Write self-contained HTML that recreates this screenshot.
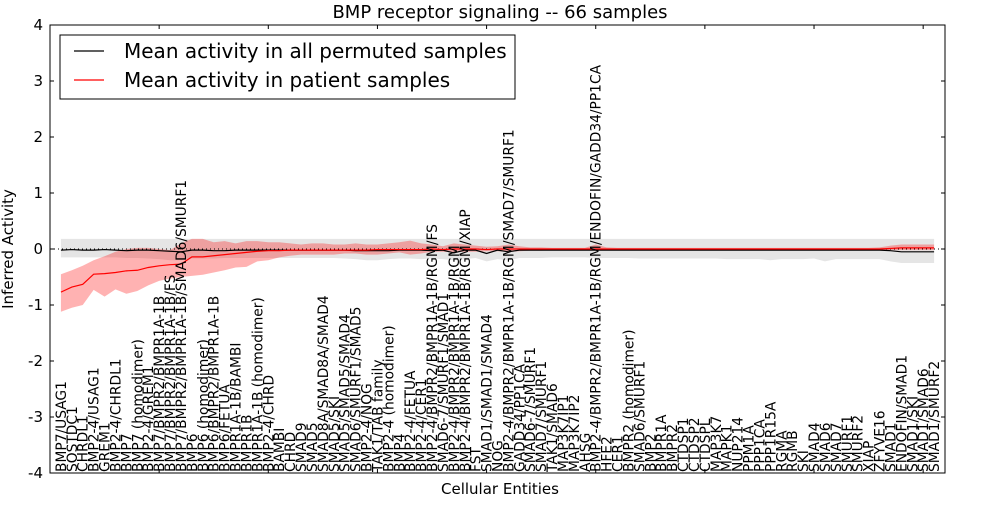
<!DOCTYPE html>
<html><head><meta charset="utf-8"><style>
body{margin:0;background:#fff;}
svg text{font-family:"DejaVu Sans","Liberation Sans",sans-serif;}
</style></head><body>
<svg id="chart" width="1000" height="500" viewBox="0 0 1000 500">
<rect width="1000" height="500" fill="#fff"/>
<g id="plot"></g>
</svg>
<script>
const categories=["BMP7/USAG1","SOSTDC1","CHRDL1","BMP2-4/USAG1","GREM1","BMP2-4/CHRDL1","BMP7","BMP7 (homodimer)","BMP2-4/GREM1","BMP7/BMPR2/BMPR1A-1B","BMP7/BMPR2/BMPR1A-1B/FS","BMP7/BMPR2/BMPR1A-1B/SMAD6/SMURF1","BMP6","BMP6 (homodimer)","BMP6/BMPR2/BMPR1A-1B","BMP6/FETUA","BMPR1A-1B/BAMBI","BMPR1B","BMPR1A-1B (homodimer)","BMP2-4/CHRD","BAMBI","CHRD","SMAD9","SMAD5","SMAD8A/SMAD8A/SMAD4","SMAD5/SKI","SMAD5/SMAD5/SMAD4","SMAD6/SMURF1/SMAD5","BMP2-4/NOG","TAK1/TAB family","BMP2-4 (homodimer)","BMP4","BMP2-4/FETUA","BMP2-4/CER1","BMP2-4/BMPR2/BMPR1A-1B/RGM/FS","SMAD6-7/SMURF1/SMAD1","BMP2-4/BMPR2/BMPR1A-1B/RGM","BMP2-4/BMPR2/BMPR1A-1B/RGM/XIAP","FST","SMAD1/SMAD1/SMAD4","NOG","BMP2-4/BMPR2/BMPR1A-1B/RGM/SMAD7/SMURF1","GADD34/PP1CA","SMAD6-7/SMURF1","SMAD7/SMURF1","TAK1/SMAD6","MAP3K7IP1","MAP3K7IP2","AHSG","BMP2-4/BMPR2/BMPR1A-1B/RGM/ENDOFIN/GADD34/PP1CA","HFE2","CER1","BMPR2 (homodimer)","SMAD6/SMURF1","BMP2","BMPR1A","BMPR2","CTDSP1","CTDSP2","CTDSPL","MAP3K7","MAPK1","NUP214","PPM1A","PPP1CA","PPP1R15A","RGMA","RGMB","SKI","SMAD4","SMAD6","SMAD7","SMURF1","SMURF2","XIAP","ZFYVE16","SMAD1","ENDOFIN/SMAD1","SMAD1/SKI","SMAD1/SMAD6","SMAD1/SMURF2"];
const patientMean=[-0.77,-0.68,-0.63,-0.45,-0.44,-0.42,-0.39,-0.38,-0.33,-0.3,-0.28,-0.27,-0.14,-0.14,-0.12,-0.1,-0.08,-0.06,-0.04,-0.03,-0.03,-0.02,-0.02,-0.02,-0.02,-0.02,-0.02,-0.02,-0.02,-0.01,-0.01,-0.01,-0.01,-0.01,0,-0.01,0,0,0,-0.01,0,0,0,0,0,0,0,0,0,0,0,0,0,0,0,0,0,0,0,0,0,0,0,0,0,0,0,0,0,0,0,0,0,0,0,0,0.01,0.02,0.02,0.02,0.02];
const patientUpper=[-0.45,-0.38,-0.3,-0.2,-0.13,-0.05,0,0.02,0.02,0,-0.02,0.1,0.18,0.18,0.12,0.14,0.1,0.14,0.14,0.12,0.12,0.1,0.08,0.1,0.1,0.08,0.08,0.1,0.08,0.08,0.1,0.12,0.15,0.1,0.08,0.05,0.1,0.08,0.06,0.04,0.05,0.08,0.05,0.03,0.03,0.02,0.02,0.02,0.02,0.08,0.03,0.02,0.02,0.02,0.02,0.02,0.02,0.02,0.02,0.02,0.02,0.02,0.02,0.02,0.02,0.02,0.02,0.02,0.02,0.02,0.02,0.02,0.02,0.02,0.02,0.03,0.06,0.08,0.08,0.08,0.08];
const patientLower=[-1.12,-1.05,-1.0,-0.73,-0.85,-0.72,-0.8,-0.75,-0.65,-0.57,-0.53,-0.5,-0.48,-0.46,-0.42,-0.38,-0.33,-0.32,-0.22,-0.2,-0.15,-0.12,-0.1,-0.1,-0.1,-0.1,-0.08,-0.08,-0.1,-0.1,-0.08,-0.06,-0.1,-0.08,-0.05,-0.05,-0.06,-0.05,-0.05,-0.04,-0.04,-0.05,-0.04,-0.03,-0.03,-0.02,-0.02,-0.02,-0.02,-0.03,-0.02,-0.02,-0.02,-0.02,-0.02,-0.02,-0.02,-0.02,-0.02,-0.02,-0.02,-0.02,-0.02,-0.02,-0.02,-0.02,-0.02,-0.02,-0.02,-0.02,-0.02,-0.02,-0.02,-0.02,-0.02,-0.02,-0.02,-0.02,-0.02,-0.02,-0.02];
const permMean=[-0.02,-0.01,-0.02,-0.02,-0.01,-0.02,-0.03,-0.02,-0.02,-0.03,-0.04,-0.05,-0.02,-0.02,-0.03,-0.03,-0.02,-0.02,-0.02,-0.02,-0.02,-0.02,-0.02,-0.02,-0.02,-0.02,-0.02,-0.03,-0.03,-0.03,-0.03,-0.02,-0.02,-0.02,-0.03,-0.02,-0.07,-0.02,-0.02,-0.08,-0.02,-0.05,-0.02,-0.02,-0.02,-0.02,-0.02,-0.02,-0.02,-0.02,-0.02,-0.02,-0.02,-0.02,-0.02,-0.02,-0.02,-0.02,-0.02,-0.02,-0.02,-0.02,-0.02,-0.02,-0.02,-0.02,-0.02,-0.02,-0.02,-0.02,-0.02,-0.02,-0.02,-0.02,-0.02,-0.02,-0.03,-0.05,-0.05,-0.05,-0.05];
const permUpper=[0.18,0.18,0.18,0.18,0.18,0.18,0.18,0.18,0.18,0.18,0.18,0.18,0.18,0.18,0.18,0.18,0.18,0.18,0.18,0.18,0.18,0.18,0.18,0.18,0.18,0.18,0.18,0.18,0.18,0.18,0.18,0.18,0.18,0.18,0.18,0.18,0.18,0.18,0.18,0.18,0.18,0.18,0.18,0.18,0.18,0.18,0.18,0.18,0.18,0.18,0.18,0.18,0.18,0.18,0.18,0.18,0.18,0.18,0.18,0.18,0.18,0.18,0.18,0.18,0.18,0.18,0.18,0.18,0.18,0.18,0.18,0.18,0.18,0.18,0.18,0.18,0.18,0.18,0.18,0.18,0.18];
const permLower=[-0.15,-0.15,-0.15,-0.15,-0.15,-0.15,-0.16,-0.16,-0.17,-0.18,-0.2,-0.2,-0.17,-0.17,-0.17,-0.16,-0.16,-0.16,-0.16,-0.16,-0.16,-0.16,-0.16,-0.16,-0.16,-0.16,-0.17,-0.18,-0.2,-0.2,-0.18,-0.17,-0.17,-0.18,-0.17,-0.18,-0.2,-0.18,-0.16,-0.22,-0.18,-0.2,-0.16,-0.16,-0.16,-0.15,-0.15,-0.15,-0.15,-0.16,-0.16,-0.16,-0.16,-0.17,-0.17,-0.17,-0.17,-0.17,-0.17,-0.17,-0.17,-0.18,-0.18,-0.18,-0.18,-0.2,-0.18,-0.18,-0.18,-0.17,-0.22,-0.18,-0.18,-0.18,-0.18,-0.18,-0.22,-0.25,-0.25,-0.25,-0.25];
const yTicks=[-4,-3,-2,-1,0,1,2,3,4];
const xTicks=[10,20,30,40,50,60,70,80];

const L=50,R=945,T=25,B=473,X0=0,X1=82,Y0=-4,Y1=4;
const xs=v=>L+(v-X0)/(X1-X0)*(R-L);
const ys=v=>B-(v-Y0)/(Y1-Y0)*(B-T);
const NS="http://www.w3.org/2000/svg";
const g=document.getElementById('plot');
function mk(tag,attrs,parent){const e=document.createElementNS(NS,tag);for(const k in attrs)e.setAttribute(k,attrs[k]);(parent||g).appendChild(e);return e;}
function band(up,lo,fill,name){
  let d='';up.forEach((v,i)=>{d+=(i?'L':'M')+xs(i+1)+','+ys(v);});
  for(let i=lo.length-1;i>=0;i--)d+='L'+xs(i+1)+','+ys(lo[i]);
  const p=mk('path',{d:d+'Z',fill:fill});
  
  
}
function line(vals,stroke,name,w){
  const p=mk('polyline',{points:vals.map((v,i)=>xs(i+1)+','+ys(v)).join(' '),fill:'none',stroke:stroke,'stroke-width':w});
  
  
}
band(permUpper,permLower,'rgba(180,180,180,0.35)','permuted-band');
band(patientUpper,patientLower,'rgba(255,0,0,0.3)','patient-band');
const zl=mk('line',{x1:L,x2:R,y1:ys(0),y2:ys(0),stroke:'#000','stroke-dasharray':'1,3','stroke-width':1});


line(permMean,'#000','permuted-mean-line',1.2);
line(patientMean,'#f00','patient-mean-line',1.2);
categories.forEach((c,i)=>{
  const t=mk('text',{x:0,y:0,transform:`translate(${xs(i+1)+5},${B-1}) rotate(-90)`,'font-size':13.8,fill:'#000'});
  t.textContent=c;
  
  
});
const fr=mk('rect',{x:L,y:T,width:R-L,height:B-T,fill:'none',stroke:'#000','stroke-width':1});


yTicks.forEach(v=>{
  const y=ys(v);
  mk('line',{x1:L,x2:L+4,y1:y,y2:y,stroke:'#000'});
  mk('line',{x1:R,x2:R-4,y1:y,y2:y,stroke:'#000'});
  const t=mk('text',{x:L-7,y:y+5,'text-anchor':'end','font-size':15});
  t.textContent=v;
  
  
});
xTicks.forEach(v=>{
  const x=xs(v);
  mk('line',{x1:x,x2:x,y1:B,y2:B-4,stroke:'#000'});
  mk('line',{x1:x,x2:x,y1:T,y2:T+4,stroke:'#000'});
});
const tt=mk('text',{x:500,y:18,'text-anchor':'middle','font-size':18});tt.textContent='BMP receptor signaling -- 66 samples';


const xt=mk('text',{x:500,y:494,'text-anchor':'middle','font-size':15});xt.textContent='Cellular Entities';


const yt=mk('text',{x:0,y:0,transform:'translate(13,249) rotate(-90)','text-anchor':'middle','font-size':15});yt.textContent='Inferred Activity';


const lg=mk('g',{});


mk('rect',{x:60,y:35,width:455,height:64,fill:'#fff',stroke:'#000'},lg);
mk('line',{x1:74,x2:104,y1:51,y2:51,stroke:'#000','stroke-width':1.2},lg);
mk('line',{x1:74,x2:104,y1:80,y2:80,stroke:'#f00','stroke-width':1.2},lg);
const l1=mk('text',{x:124,y:58,'font-size':20},lg);l1.textContent='Mean activity in all permuted samples';


const l2=mk('text',{x:124,y:87,'font-size':20},lg);l2.textContent='Mean activity in patient samples';


</script>
</body></html>
